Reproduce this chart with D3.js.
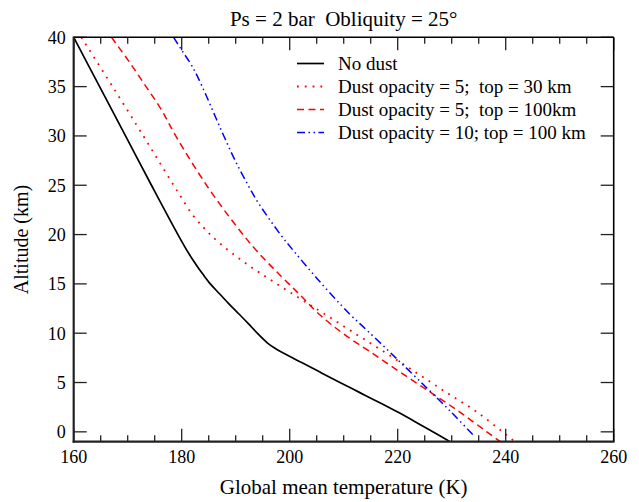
<!DOCTYPE html>
<html><head><meta charset="utf-8">
<script src="https://cdn.jsdelivr.net/npm/d3@7"></script>
<style>
html,body{margin:0;padding:0;background:#fff;}
text{font-family:"Liberation Serif","Times New Roman",serif;fill:#000;white-space:pre;}
</style></head>
<body><svg id="c" width="639" height="502"></svg>
<script>
// ---- data ----
const titleText = "Ps = 2 bar  Obliquity = 25°";
const xLabel = "Global mean temperature (K)";
const yLabel = "Altitude (km)";
const xTickValues = [160, 180, 200, 220, 240, 260];
const yTickValues = [0, 5, 10, 15, 20, 25, 30, 35, 40];
const seriesNames = ["No dust", "Dust opacity = 5;  top = 30 km", "Dust opacity = 5;  top = 100km", "Dust opacity = 10; top = 100 km"];

const altNoDust = [40, 35, 30, 25, 20, 18, 17, 16, 15, 14, 13, 12, 11, 10, 9, 8.5, 8, 7, 6, 5, 4, 3, 2, 1, 0, -1];
const tempNoDust = [160, 164.8, 169.6, 174.4, 179.3, 181.4, 182.6, 183.9, 185.3, 187.0, 188.7, 190.5, 192.3, 194.0, 195.9, 197.2, 198.8, 202.3, 205.8, 209.3, 212.9, 216.5, 220.0, 223.3, 226.5, 229.7];

const altDust5Top30 = [40, 35, 30, 27.5, 25, 23.7, 22, 20.8, 20, 19, 18, 17, 16, 15, 14, 13, 12, 10, 8, 6, 4, 2, 0, -1];
const tempDust5Top30 = [161.4, 167.2, 172.9, 175.7, 178.5, 180.0, 182.0, 183.9, 185.3, 187.3, 189.6, 192.1, 194.8, 197.6, 200.5, 203.4, 206.3, 212.0, 217.8, 223.4, 229.0, 234.7, 239.4, 241.7];

const altDust5Top100 = [40, 37.5, 35, 32.6, 30, 25, 20.8, 18.4, 16, 14, 12, 10, 8, 6, 4, 2, 0, -1];
const tempDust5Top100 = [167.0, 170.3, 173.4, 176.3, 178.9, 184.6, 190.2, 193.8, 198.0, 201.7, 205.3, 209.8, 215.2, 220.6, 226.1, 231.5, 236.5, 239.0];

const altDust10Top100 = [40, 38.7, 37, 35, 32.5, 30, 27.5, 25, 23.2, 20, 18.3, 15.4, 12, 10.3, 8, 5.3, 2, -0.5];
const tempDust10Top100 = [178.5, 180.0, 182.0, 183.8, 185.8, 187.8, 189.9, 192.3, 194.2, 198.3, 200.8, 205.3, 211.0, 214.3, 218.7, 223.8, 229.9, 234.3];

// ---- drawing ----
const svg = d3.select("#c");
const L = 73.7, R = 613.7, T = 37.3, B = 441.7;
const x = d3.scaleLinear().domain([160, 260]).range([L, R]);
const y = d3.scaleLinear().domain([-1, 40]).range([B, T]);

svg.append("defs").append("clipPath").attr("id","clip")
  .append("rect").attr("x",L).attr("y",T).attr("width",R-L).attr("height",B-T);

const series = [
  {name: seriesNames[0], alt: altNoDust, temp: tempNoDust, color: "#000", dash: null, w: 1.7},
  {name: seriesNames[1], alt: altDust5Top30, temp: tempDust5Top30, color: "#ff0000", dash: "1.8,6", w: 1.8},
  {name: seriesNames[2], alt: altDust5Top100, temp: tempDust5Top100, color: "#ff0000", dash: "7,4.5", w: 1.5},
  {name: seriesNames[3], alt: altDust10Top100, temp: tempDust10Top100, color: "#0000ff", dash: "8,3.5,1.5,3.5,1.5,3.5", w: 1.5}
];

const line = d3.line().x(d => x(d[0])).y(d => y(d[1])).curve(d3.curveCatmullRom.alpha(0.5));
const g = svg.append("g").attr("clip-path","url(#clip)");
series.forEach(s => {
  const pts = s.temp.map((t,i) => [t, s.alt[i]]);
  g.append("path").attr("d", line(pts)).attr("fill","none")
    .attr("stroke", s.color).attr("stroke-width", s.w)
    .attr("stroke-dasharray", s.dash);
});

// ticks
const tk = svg.append("g").attr("stroke","#222").attr("stroke-width",1.3);
d3.range(160, 261, 5).forEach(v => {
  const len = (v % 20 === 0) ? 13 : 6.5;
  tk.append("line").attr("x1",x(v)).attr("x2",x(v)).attr("y1",B).attr("y2",B-len);
  tk.append("line").attr("x1",x(v)).attr("x2",x(v)).attr("y1",T).attr("y2",T+len);
});
yTickValues.forEach(v => {
  tk.append("line").attr("x1",L).attr("x2",L+13).attr("y1",y(v)).attr("y2",y(v));
  tk.append("line").attr("x1",R).attr("x2",R-13).attr("y1",y(v)).attr("y2",y(v));
});

// frame
svg.append("line").attr("x1",L).attr("x2",R).attr("y1",T).attr("y2",T).attr("stroke","#000").attr("stroke-width",1.6);
svg.append("line").attr("x1",R).attr("x2",R).attr("y1",T).attr("y2",B).attr("stroke","#000").attr("stroke-width",1.6);
svg.append("line").attr("x1",L).attr("x2",L).attr("y1",T-0.8).attr("y2",B+1).attr("stroke","#222").attr("stroke-width",2.2);
svg.append("line").attr("x1",L-1).attr("x2",R+0.8).attr("y1",B).attr("y2",B).attr("stroke","#222").attr("stroke-width",2.2);

// tick labels
xTickValues.forEach(v => {
  svg.append("text").attr("x",x(v)).attr("y",463).attr("text-anchor","middle")
    .attr("font-size",18).text(v);
});
yTickValues.forEach(v => {
  svg.append("text").attr("x",L-8).attr("y",y(v)).attr("dy","0.35em").attr("text-anchor","end")
    .attr("font-size",18).text(v);
});

// titles
svg.append("text").attr("x",(L+R)/2).attr("y",26).attr("text-anchor","middle").attr("font-size",21).text(titleText);
svg.append("text").attr("x",(L+R)/2).attr("y",494).attr("text-anchor","middle").attr("font-size",21).text(xLabel);
svg.append("text").attr("transform",`translate(28,${(T+B)/2}) rotate(-90)`).attr("text-anchor","middle").attr("font-size",20).text(yLabel);

// legend
const lg = svg.append("g");
series.forEach((s,i) => {
  const yy = 63.5 + i*23;
  lg.append("line").attr("x1",297).attr("x2",324).attr("y1",yy).attr("y2",yy)
    .attr("stroke",s.color).attr("stroke-width",s.w).attr("stroke-dasharray",s.dash);
  lg.append("text").attr("x",338).attr("y",yy).attr("dy","0.35em").attr("font-size",19).text(s.name);
});
</script></body></html>
